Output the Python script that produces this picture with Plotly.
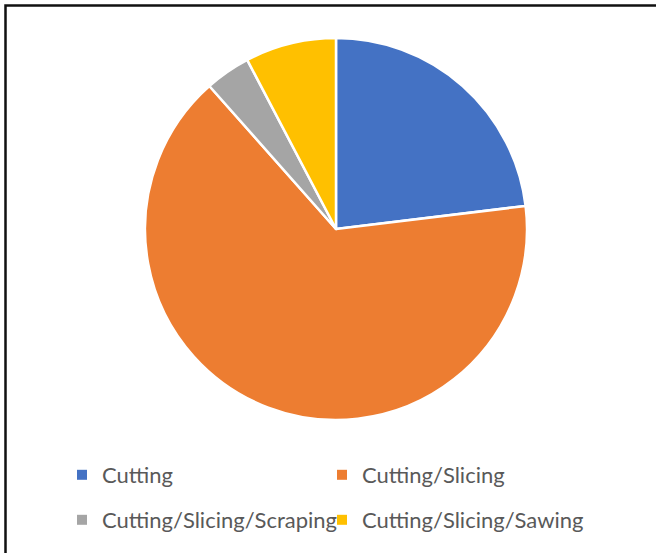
import plotly.graph_objects as go

categories = ["Cutting", "Cutting/Slicing", "Cutting/Slicing/Scraping", "Cutting/Slicing/Sawing"]
values = [6, 17, 1, 2]
colors = ["#4472C4", "#ED7D31", "#A5A5A5", "#FFC000"]
legend_ids = ["legend", "legend2", "legend3", "legend4"]
legend_pos = [(62, 475), (322, 475), (62, 520), (322, 520)]

W, H = 656, 553

fig = go.Figure()
fig.add_trace(go.Pie(
    labels=categories, values=values, sort=False, direction="clockwise", rotation=0,
    marker=dict(colors=colors, line=dict(color="white", width=2.5)),
    textinfo="none", showlegend=False,
    domain=dict(x=[145 / W, 527 / W], y=[(H - 420) / H, (H - 38) / H]),
))
for cat, col, lg in zip(categories, colors, legend_ids):
    fig.add_trace(go.Scatter(x=[None], y=[None], mode="markers", name=cat,
                             marker=dict(symbol="square", size=10, color=col),
                             legend=lg, showlegend=True))

legend_common = dict(orientation="h",
                     font=dict(family="Lato", size=22, color="#595959"),
                     bgcolor="rgba(0,0,0,0)", xanchor="left", yanchor="middle",
                     itemclick=False)
layout_legends = {}
for lg, (px, py) in zip(legend_ids, legend_pos):
    layout_legends[lg] = dict(x=px / W, y=1 - py / H, **legend_common)

fig.update_layout(
    width=W, height=H,
    margin=dict(l=0, r=0, t=0, b=0),
    paper_bgcolor="white", plot_bgcolor="white",
    xaxis=dict(visible=False), yaxis=dict(visible=False),
    shapes=[dict(type="rect", xref="paper", yref="paper",
                 x0=5.5 / W, x1=1.02, y0=-0.02, y1=1 - 5.5 / H,
                 line=dict(color="#111111", width=2.5), fillcolor="rgba(0,0,0,0)")],
    **layout_legends,
)
fig.write_html("out.html")
